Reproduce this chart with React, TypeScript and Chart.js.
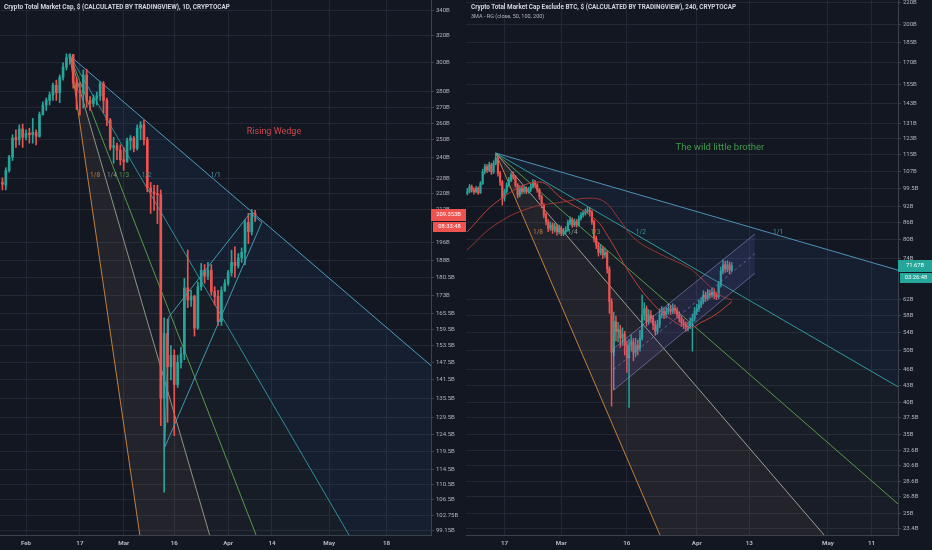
import React, { useEffect, useRef } from "react";
import { Chart, registerables } from "chart.js";

Chart.register(...registerables);

const BG = "#131722";
const GRID = "#232733";
const AXIS = "#3d414c";
const TEXT = "#b2b5be";
const UP = "#26a69a";
const DOWN = "#ef5350";
const FONT = "Roboto, 'Liberation Sans', sans-serif";

// ================= LEFT: Crypto Total Market Cap, 1D (billions USD) =================
// day index 0 = 1 Feb 2020; first daily candle = 25 Jan
const leftFirstDay = -7;
const leftOpen = [226, 224.5, 232.5, 240, 251.5, 250, 256.5, 251.5, 254, 253, 254.5, 252, 265.5, 271.5, 274.5, 278, 284.5, 279.5, 290, 297, 303.5, 306, 286, 281, 279.5, 291.5, 274.5, 272.5, 276, 277.5, 285.5, 274.5, 262, 245.5, 246.5, 244, 238.5, 237.5, 249.5, 251, 245, 257, 259, 250, 223, 221, 220, 219.5, 135.5, 158, 146, 150, 140, 147.5, 150.5, 176, 171, 172.5, 160, 176.5, 183.5, 181, 183.5, 174.5, 172.5, 162.5, 175, 178, 182.5, 187, 185.5, 189, 191.5, 205.5, 201, 210];
const leftHigh = [228.5, 234, 241, 253, 256, 259, 259.5, 256, 257, 263, 256, 267, 273.5, 276, 280, 286, 288, 291.5, 300, 306.5, 306.5, 306, 289.5, 286.5, 295, 295.5, 277, 278, 280, 287, 287, 276, 263, 251.5, 248, 247, 245.5, 251, 252.5, 252, 259, 261, 262, 251.5, 226, 224.5, 224.5, 222, 164, 163.5, 153.5, 152, 150, 153, 180, 192.5, 175, 173, 178.5, 186.5, 186, 187, 186, 176.5, 175, 176.5, 179.5, 183.5, 192.5, 194, 191, 193.5, 207, 210, 212, 211.5];
const leftLow = [222, 222, 231.5, 238, 245.5, 247, 245.5, 250, 248, 248, 247, 251.5, 265, 268, 271.5, 274.5, 274.5, 273, 288, 295, 299, 282.5, 268.5, 265, 269.5, 270, 268, 270.5, 271.5, 274.5, 266.5, 258.5, 244, 236.5, 238.5, 235.5, 232.5, 237, 244, 243, 244, 250, 247, 221, 210, 211.5, 205, 127, 108.5, 128, 141.5, 124, 139, 145.5, 148.5, 168, 168.5, 157, 159.5, 175, 178, 179.5, 173, 169, 161, 161, 174.5, 177, 181, 180.5, 184.5, 187, 186, 195.5, 199.5, 206];
const leftClose = [225, 232.5, 240, 251, 250, 256.5, 251.5, 254, 253, 254.5, 252, 265.5, 271.5, 274.5, 278, 284.5, 279.5, 290, 297, 303.5, 306, 286, 281, 279.5, 291.5, 274.5, 272.5, 276, 277.5, 285.5, 274.5, 262, 245.5, 246.5, 244, 238.5, 237.5, 249.5, 251, 245, 257, 259, 250, 223, 221, 220, 219.5, 135.5, 158, 146, 150, 140, 147.5, 150.5, 176, 171, 172.5, 160, 176.5, 183.5, 181, 183.5, 174.5, 172.5, 162.5, 175, 178, 182.5, 187, 185.5, 189, 191.5, 205.5, 201, 210, 209.353];

const leftPriceTicks = [340, 320, 300, 280, 270, 260, 250, 240, 228, 220, 212, 196, 188, 180.5, 173, 165.5, 159.5, 153.5, 147.5, 141.5, 135.5, 129.5, 124.5, 119.5, 114.5, 110.5, 106.5, 102.75, 99.15];
const leftDateDays = [0, 16, 29, 44, 60, 73, 90, 107];
const leftDateLabels = ["Feb", "17", "Mar", "16", "Apr", "14", "May", "18"];

// Gann fan (1/8, 1/4, 1/3, 1/2, 1/1) from the February top
const fanNames = ["1/8", "1/4", "1/3", "1/2", "1/1"];
const leftFanOriginDay = 13.06;
const leftFanOriginValue = 305;
const leftFanEndDay = 120.2;
const leftFanEndValues = [0.86, 16.2, 33.7, 70.2, 146.4];
const leftFanLabelDays = [20.5, 25.5, 29.1, 35.8, 56.3];
const leftFanLabelValue = 230;

// Rising wedge outline
const wedgeDays = [41.2, 42.4, 66.5, 70.0, 41.2];
const wedgeValues = [120.7, 164.3, 210.1, 205.7, 120.7];

// ================= RIGHT: Total Market Cap excl. BTC, 12h (billions USD) =================
// day index 0 = 17 Feb 2020
const rightFirstDay = -8.5;
const rightStep = 0.5;
const rightFirstOpen = 97.5;
const rightClose = [98.2, 100.3, 98.9, 98.2, 99.6, 97.8, 101.7, 106.8, 109.2, 107.6, 110.0, 106.8, 110.8, 113.3, 106.1, 102.3, 95.5, 98.2, 101.0, 103.2, 105.4, 104.6, 101.0, 96.8, 99.6, 98.2, 99.6, 98.2, 98.9, 100.3, 102.3, 101.0, 98.9, 96.1, 92.7, 88.9, 86.4, 84.0, 85.2, 83.4, 84.6, 82.8, 84.0, 82.2, 82.8, 83.4, 86.0, 87.0, 85.2, 86.4, 85.2, 87.6, 88.9, 89.6, 90.1, 90.8, 90.1, 86.4, 80.5, 78.2, 75.8, 77.0, 75.0, 75.8, 70.7, 61.5, 49.6, 56.5, 54.2, 54.6, 52.7, 53.5, 51.1, 48.4, 51.1, 51.8, 49.6, 51.1, 50.4, 52.7, 58.1, 59.7, 56.5, 58.1, 57.3, 55.7, 54.2, 55.7, 58.1, 59.0, 58.1, 59.0, 59.7, 59.0, 59.7, 59.3, 58.1, 57.3, 56.2, 55.7, 55.0, 55.4, 56.5, 57.3, 59.0, 59.7, 60.6, 61.5, 63.2, 62.4, 63.6, 63.2, 64.0, 63.2, 62.8, 66.0, 70.0, 71.9, 70.7, 71.9, 70.3, 71.67];
const rightHigh = [99.5, 101.2, 101.0, 99.8, 100.4, 100.2, 102.5, 108.0, 110.4, 110.2, 111.3, 110.8, 112.0, 115.7, 114.0, 107.0, 103.0, 99.2, 102.0, 104.3, 106.4, 106.8, 105.2, 101.6, 100.6, 100.5, 100.6, 100.2, 100.0, 101.3, 103.4, 103.0, 101.6, 99.5, 96.8, 93.3, 89.6, 87.2, 86.3, 86.0, 85.8, 85.4, 85.2, 84.8, 84.0, 84.6, 87.0, 88.2, 87.8, 87.4, 87.2, 88.6, 89.9, 90.6, 91.2, 92.0, 91.6, 90.6, 87.0, 81.3, 79.0, 78.4, 77.8, 77.2, 76.4, 71.4, 62.3, 58.8, 57.8, 56.3, 55.6, 55.0, 54.2, 52.0, 52.4, 53.4, 52.6, 52.6, 52.2, 54.4, 63.2, 61.2, 60.4, 59.4, 59.2, 58.0, 56.6, 56.8, 59.6, 60.2, 59.8, 60.0, 60.8, 60.6, 60.9, 60.6, 59.9, 58.9, 57.9, 57.0, 56.4, 56.3, 57.4, 58.3, 60.0, 60.8, 61.8, 62.6, 64.4, 64.1, 64.8, 64.6, 65.2, 64.9, 64.0, 67.0, 71.2, 73.4, 73.0, 73.2, 72.8, 72.6];
const rightLow = [96.8, 97.6, 98.0, 97.1, 97.6, 97.0, 97.4, 101.2, 105.9, 106.4, 106.9, 105.6, 106.0, 110.0, 104.9, 100.8, 92.7, 94.3, 97.5, 100.2, 102.4, 103.5, 100.1, 95.6, 96.0, 97.2, 97.5, 97.3, 97.5, 98.2, 99.8, 100.1, 97.9, 95.0, 91.6, 87.8, 85.2, 82.8, 83.2, 82.2, 82.6, 81.6, 82.0, 81.4, 81.4, 82.0, 82.9, 85.2, 84.3, 84.6, 84.4, 84.8, 87.0, 88.1, 88.8, 89.4, 88.4, 85.4, 79.2, 77.0, 74.6, 75.0, 73.8, 74.2, 69.4, 58.5, 39.4, 48.8, 52.0, 51.8, 50.6, 51.0, 49.0, 45.5, 39.2, 49.8, 47.8, 48.6, 49.0, 49.8, 52.2, 56.8, 55.4, 55.8, 56.2, 54.6, 53.3, 53.6, 55.0, 57.4, 57.2, 57.4, 58.3, 58.2, 58.4, 58.4, 57.3, 56.4, 55.3, 54.8, 54.2, 54.3, 54.8, 49.8, 56.6, 58.2, 59.0, 59.9, 60.9, 61.5, 61.8, 62.4, 62.6, 62.3, 62.0, 62.3, 65.4, 69.2, 69.6, 69.8, 69.2, 69.8];
const rightOpen = [rightFirstOpen, ...rightClose.slice(0, -1)];

const rightPriceTicks = [220, 200, 185, 170, 155, 143, 131, 123, 115, 107, 99.5, 92, 86, 80, 74, 62, 58, 54, 50, 46, 43, 40, 37.5, 35, 32.6, 30.6, 28.6, 26.8, 25, 23.4];
const rightDateDays = [0, 13, 28, 44, 56, 74, 84];
const rightDateLabels = ["17", "Mar", "16", "Apr", "13", "May", "11"];

const rightFanOriginDay = -2.0;
const rightFanOriginValue = 115.7;
const rightFanEndDay = 90.05;
const rightFanEndValues = [2.16, 15.8, 26.0, 42.8, 70.3];
const rightFanLabelDays = [7.67, 15.6, 20.8, 31.2, 62.6];
const rightFanLabelValue = 82.6;

// Moving averages (3MA - RG)
const maFastDays = [-8.58, -1.26, 7.89, 13.16, 20.71, 23.91, 28.49, 33.07, 37.64, 42.22, 45.19, 48.17, 52.06];
const maFastValues = [82.7, 94.7, 102.3, 95.3, 87.4, 80.6, 69.7, 62.1, 57.4, 55.0, 56.4, 58.1, 61.5];
const maSlowDays = [-8.58, -2.17, 5.61, 13.16, 19.34, 23.0, 26.2, 29.9, 36.0, 42.2, 45.2, 49.1, 52.06];
const maSlowValues = [76.6, 85.2, 91.5, 93.9, 95.5, 93.9, 87.4, 80.2, 75.0, 71.0, 67.7, 63.4, 61.9];

// Regression channel
const channelDays = [25.0, 57.3];
const channelUpper = [50.4, 82.0];
const channelMid = [46.1, 75.4];
const channelLower = [42.2, 69.4];

// ================= helpers =================
type Note = { d: number; v: number; text: string; color: string; size: number };

function candleSets(first: number, step: number, o: number[], h: number[], l: number[], c: number[], bodyW: number, wickW: number) {
  const xs = c.map((_, i) => first + i * step);
  const colors = c.map((v, i) => (v >= o[i] ? UP : DOWN));
  return [
    {
      type: "bar",
      data: xs.map((x, i) => ({ x, y: [l[i], h[i]] })),
      backgroundColor: colors,
      barThickness: wickW,
      grouped: false,
      minBarLength: 1,
      order: 5,
    },
    {
      type: "bar",
      data: xs.map((x, i) => ({ x, y: [Math.min(o[i], c[i]), Math.max(o[i], c[i])] })),
      backgroundColor: colors,
      barThickness: bodyW,
      grouped: false,
      minBarLength: 1,
      order: 4,
    },
  ];
}

function fanSets(oDay: number, oVal: number, endDay: number, ends: number[], colors: string[], fills: string[]) {
  return ends.map((e, i) => ({
    type: "line",
    data: [
      { x: oDay, y: oVal },
      { x: endDay, y: e },
    ],
    borderColor: colors[i],
    borderWidth: 1,
    pointRadius: 0,
    fill: i < ends.length - 1 ? "+1" : false,
    backgroundColor: fills[i],
    order: 8,
  }));
}

function lineSet(days: number[], vals: number[], color: string, extra: any = {}) {
  return {
    type: "line",
    data: days.map((d, i) => ({ x: d, y: vals[i] })),
    borderColor: color,
    borderWidth: 1,
    pointRadius: 0,
    fill: false,
    order: 1,
    ...extra,
  };
}

function annotPlugin(notes: Note[], box: { value: number; text: string; timer: string; color: string }) {
  return {
    id: "annot",
    afterDatasetsDraw(chart: any) {
      const { ctx, scales } = chart;
      ctx.save();
      ctx.textAlign = "center";
      ctx.textBaseline = "middle";
      for (const n of notes) {
        ctx.font = `${n.size}px ${FONT}`;
        ctx.fillStyle = n.color;
        ctx.fillText(n.text, scales.x.getPixelForValue(n.d), scales.y.getPixelForValue(n.v));
      }
      ctx.restore();
    },
    afterDraw(chart: any) {
      const { ctx, chartArea, scales } = chart;
      const py = Math.round(scales.y.getPixelForValue(box.value));
      const x0 = chartArea.right;
      const w = chart.width - x0;
      ctx.save();
      ctx.fillStyle = box.color;
      ctx.fillRect(x0, py - 6, w, 12);
      ctx.fillRect(x0 + 2, py + 7, w - 2, 10);
      ctx.fillStyle = "#ffffff";
      ctx.textAlign = "center";
      ctx.textBaseline = "middle";
      ctx.font = `5.8px ${FONT}`;
      ctx.fillText(box.text, x0 + w / 2, py);
      ctx.fillText(box.timer, x0 + 1 + w / 2, py + 12);
      ctx.restore();
    },
  };
}

function baseOptions(p: {
  xMin: number; xMax: number; yMin: number; yMax: number;
  dateDays: number[]; dateLabels: string[]; priceTicks: number[]; axisWidth: number;
}) {
  const zeroPad = (s: any) => {
    s.paddingTop = 0;
    s.paddingBottom = 0;
    s.paddingLeft = 0;
    s.paddingRight = 0;
  };
  return {
    responsive: false,
    animation: false,
    events: [],
    layout: { padding: 0 },
    plugins: { legend: { display: false }, tooltip: { enabled: false }, title: { display: false } },
    scales: {
      x: {
        type: "linear",
        min: p.xMin,
        max: p.xMax,
        offset: false,
        grid: { color: GRID, drawTicks: false, offset: false },
        border: { color: AXIS },
        ticks: {
          color: TEXT,
          font: { family: FONT, size: 6.2, weight: "bold" },
          padding: 5,
          autoSkip: false,
          maxRotation: 0,
          callback: (v: number) => {
            const i = p.dateDays.indexOf(v);
            return i >= 0 ? p.dateLabels[i] : "";
          },
        },
        afterBuildTicks: (s: any) => {
          s.ticks = p.dateDays.map((v) => ({ value: v }));
        },
        afterFit: (s: any) => {
          s.height = 15;
          zeroPad(s);
        },
      },
      y: {
        type: "logarithmic",
        position: "right",
        min: p.yMin,
        max: p.yMax,
        grid: { color: GRID, tickLength: 3, tickColor: AXIS },
        border: { color: AXIS },
        ticks: {
          color: TEXT,
          font: { family: FONT, size: 6 },
          padding: 2,
          autoSkip: false,
          callback: (v: number) => `${v}B`,
        },
        afterBuildTicks: (s: any) => {
          s.ticks = p.priceTicks.map((v) => ({ value: v }));
        },
        afterFit: (s: any) => {
          s.width = p.axisWidth;
          zeroPad(s);
        },
      },
    },
  };
}

const leftFanColors = ["#c47f3e", "#8e9488", "#5a9a4c", "#2f8f99", "#4f9fc0"];
const rightFanColors = ["#c47f3e", "#9aa09c", "#5a9a4c", "#2f9aa0", "#4f93b8"];
const fanFills = [
  "rgba(170,145,120,0.11)",
  "rgba(120,140,120,0.06)",
  "rgba(80,150,120,0.05)",
  "rgba(60,120,190,0.09)",
  "rgba(0,0,0,0)",
];

function leftConfig(): any {
  const notes: Note[] = fanNames.map((t, i) => ({
    d: leftFanLabelDays[i],
    v: leftFanLabelValue,
    text: t,
    color: leftFanColors[i],
    size: 6.5,
  }));
  notes.push({ d: 73.6, v: 254.7, text: "Rising Wedge", color: "#d2484a", size: 9 });
  return {
    type: "bar",
    data: {
      datasets: [
        ...fanSets(leftFanOriginDay, leftFanOriginValue, leftFanEndDay, leftFanEndValues, leftFanColors, fanFills),
        ...candleSets(leftFirstDay, 1, leftOpen, leftHigh, leftLow, leftClose, 2, 1),
        lineSet(wedgeDays, wedgeValues, "#3f9ab0"),
      ],
    },
    options: baseOptions({
      xMin: -7.72, xMax: 120.2, yMin: 98.0, yMax: 348.2,
      dateDays: leftDateDays, dateLabels: leftDateLabels, priceTicks: leftPriceTicks, axisWidth: 35,
    }),
    plugins: [annotPlugin(notes, { value: leftClose[leftClose.length - 1], text: "209.353B", timer: "08:33:48", color: DOWN })],
  };
}

function rightConfig(): any {
  const notes: Note[] = fanNames.map((t, i) => ({
    d: rightFanLabelDays[i],
    v: rightFanLabelValue,
    text: t,
    color: rightFanColors[i],
    size: 6.5,
  }));
  notes.push({ d: 49.3, v: 118.2, text: "The wild little brother", color: "#3f9a4c", size: 9.5 });
  const chan = "rgba(150,150,205,0.55)";
  return {
    type: "bar",
    data: {
      datasets: [
        ...fanSets(rightFanOriginDay, rightFanOriginValue, rightFanEndDay, rightFanEndValues, rightFanColors, fanFills),
        ...candleSets(rightFirstDay, rightStep, rightOpen, rightHigh, rightLow, rightClose, 1.5, 0.8),
        lineSet(channelDays, channelUpper, chan, { fill: "+1", backgroundColor: "rgba(110,100,210,0.14)" }),
        lineSet(channelDays, channelLower, chan),
        lineSet(channelDays, channelMid, chan, { borderDash: [3, 3] }),
        lineSet([channelDays[0], channelDays[0]], [channelUpper[0], channelLower[0]], chan),
        lineSet(maFastDays, maFastValues, "#c0403a", { tension: 0.4 }),
        lineSet(maSlowDays, maSlowValues, "#9b3531", { tension: 0.4 }),
      ],
    },
    options: baseOptions({
      xMin: -8.81, xMax: 90.05, yMin: 22.78, yMax: 221.9,
      dateDays: rightDateDays, dateLabels: rightDateLabels, priceTicks: rightPriceTicks, axisWidth: 34,
    }),
    plugins: [annotPlugin(notes, { value: rightClose[rightClose.length - 1], text: "71.67B", timer: "03:26:48", color: UP })],
  };
}

export default function App() {
  const leftRef = useRef<HTMLCanvasElement>(null);
  const rightRef = useRef<HTMLCanvasElement>(null);

  useEffect(() => {
    document.body.style.margin = "0";
    document.body.style.background = BG;
    const c1 = new Chart(leftRef.current as HTMLCanvasElement, leftConfig());
    const c2 = new Chart(rightRef.current as HTMLCanvasElement, rightConfig());
    return () => {
      c1.destroy();
      c2.destroy();
    };
  }, []);

  const head: React.CSSProperties = {
    position: "absolute",
    whiteSpace: "nowrap",
    color: "#d1d4dc",
    fontFamily: FONT,
    lineHeight: "8px",
  };

  return (
    <div style={{ position: "relative", width: 932, height: 550, background: BG, overflow: "hidden" }}>
      <canvas ref={leftRef} width={466} height={550} style={{ position: "absolute", left: 0, top: 0 }} />
      <canvas ref={rightRef} width={466} height={550} style={{ position: "absolute", left: 466, top: 0 }} />
      <div style={{ ...head, left: 4, top: 3, fontSize: "6.4px", fontWeight: 700 }}>
        Crypto Total Market Cap, $ (CALCULATED BY TRADINGVIEW), 1D, CRYPTOCAP
      </div>
      <div style={{ ...head, left: 471, top: 3, fontSize: "6.35px", fontWeight: 700 }}>
        Crypto Total Market Cap Exclude BTC, $ (CALCULATED BY TRADINGVIEW), 240, CRYPTOCAP
      </div>
      <div style={{ ...head, left: 471, top: 12, fontSize: "5.5px", color: "#b2b5be" }}>
        3MA - RG (close, 50, 100, 200)
      </div>
    </div>
  );
}
